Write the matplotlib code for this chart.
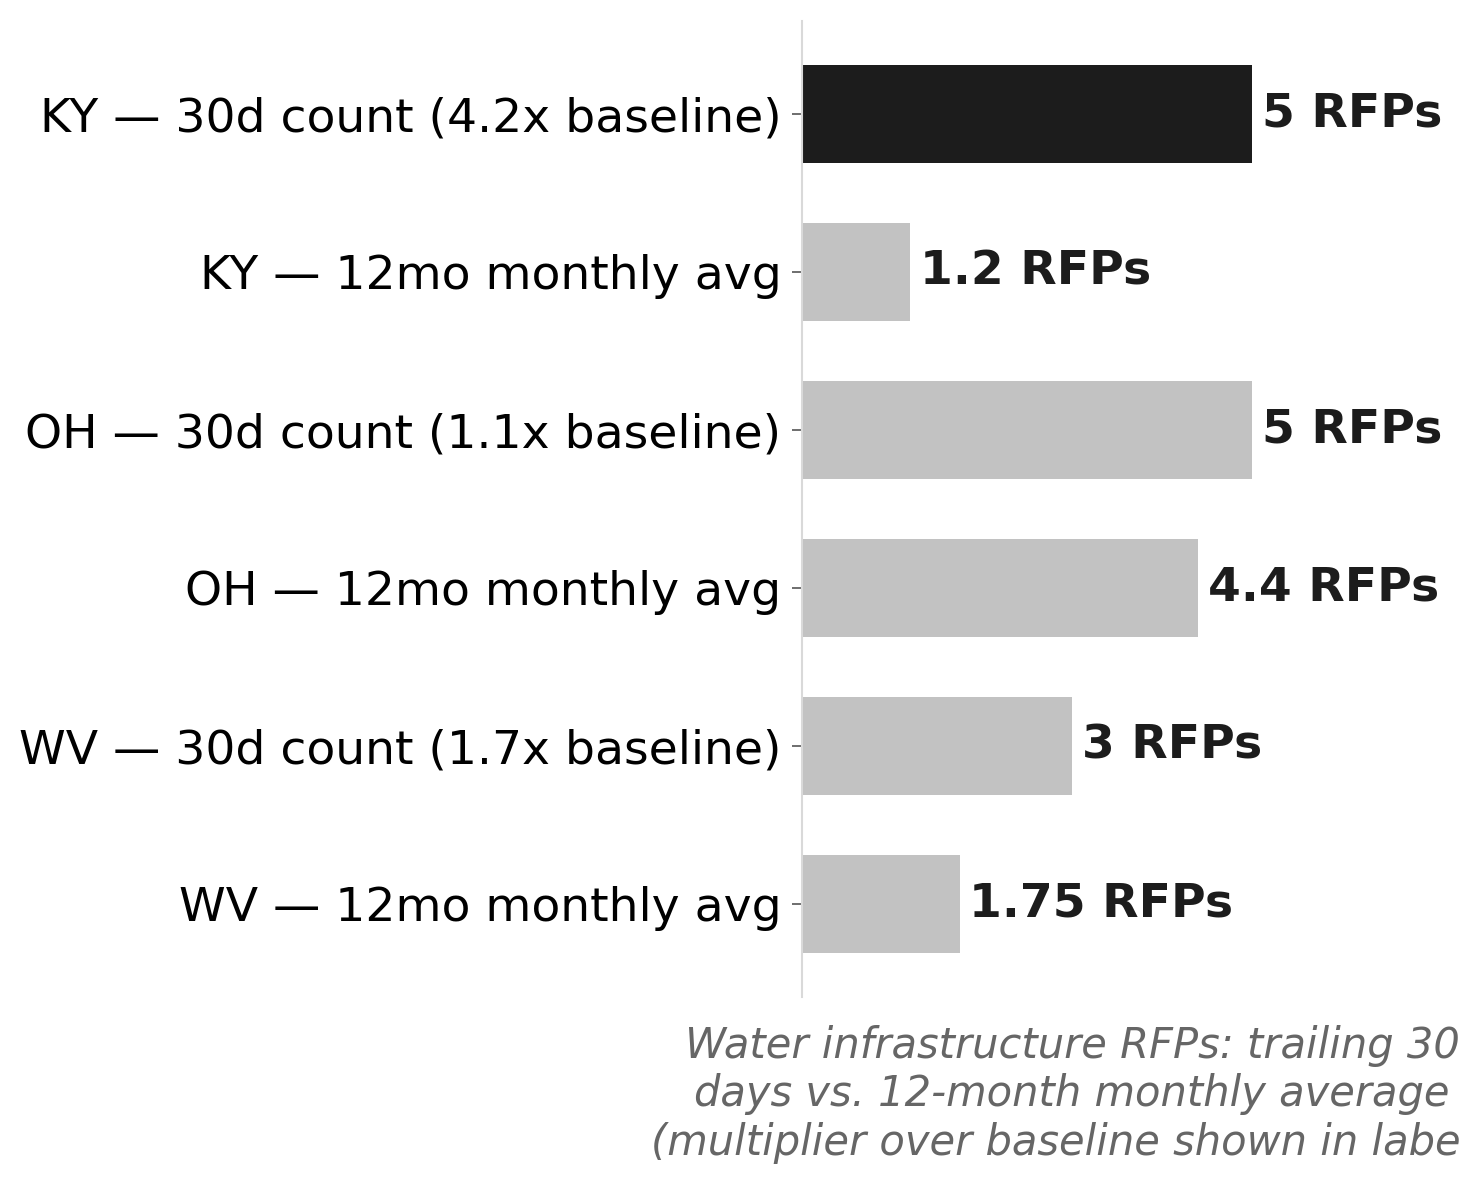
import numpy as np
import matplotlib
matplotlib.use("Agg")
import matplotlib.pyplot as plt

# --- data ---
categories = [
    "KY — 30d count (4.2x baseline)",
    "KY — 12mo monthly avg",
    "OH — 30d count (1.1x baseline)",
    "OH — 12mo monthly avg",
    "WV — 30d count (1.7x baseline)",
    "WV — 12mo monthly avg",
]
values = [5, 1.2, 5, 4.4, 3, 1.75]
value_labels = ["5 RFPs", "1.2 RFPs", "5 RFPs", "4.4 RFPs", "3 RFPs", "1.75 RFPs"]
highlight = [True, False, False, False, False, False]
# caption runs off the right edge in the original, as here
caption = ("Water infrastructure RFPs: trailing 30\n"
           "days vs. 12-month monthly average\n"
           "(multiplier over baseline shown in labels")

fig = plt.figure(figsize=(14.61, 11.84), dpi=100)
ax = fig.add_axes([0.549, 0.158, 0.3695, 0.8245])

y = np.arange(len(categories))
colors = ["#1c1c1c" if h else "#c2c2c2" for h in highlight]
ax.barh(y, values, height=0.62, color=colors)

for yi, v, lab in zip(y, values, value_labels):
    ax.annotate(lab, (v, yi), xytext=(7, 0), textcoords="offset points",
                ha="left", va="center", fontsize=34, fontweight="bold",
                color="#1c1c1c")

ax.set_yticks(y)
ax.set_yticklabels(categories, fontsize=34)
ax.invert_yaxis()
ax.set_xlim(0, 6)
ax.set_xticks([])

for s in ["top", "right", "bottom"]:
    ax.spines[s].set_visible(False)
ax.spines["left"].set_color("#d9d9d9")
ax.spines["left"].set_linewidth(1.5)
ax.tick_params(axis="y", length=7, width=1.2, color="#555555", pad=8)

ax.set_xlabel(caption, fontsize=30, style="italic", color="#666666",
              labelpad=20, linespacing=1.2)

fig.savefig("out.png", dpi=100)
